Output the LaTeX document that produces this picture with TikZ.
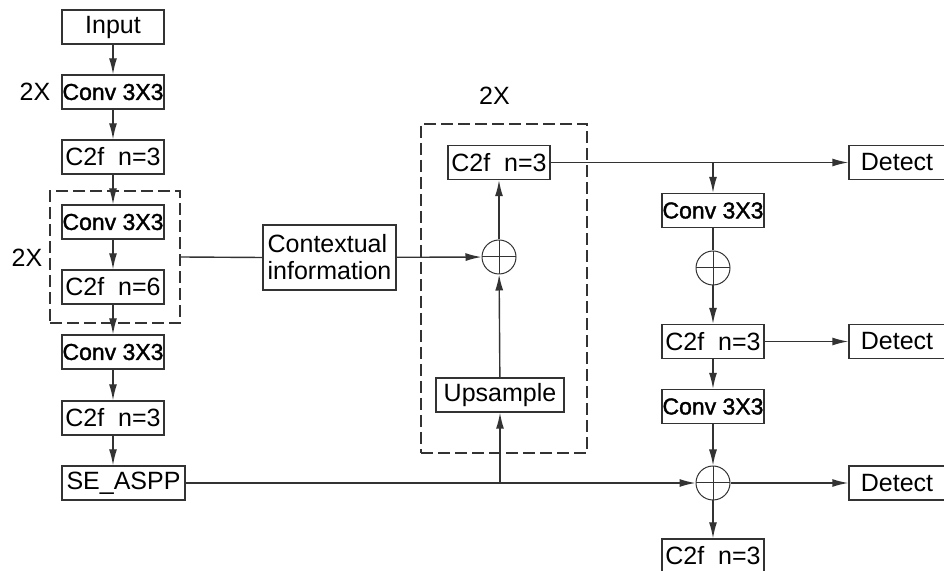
\documentclass[tikz,border=0pt]{standalone}
\usepackage{fontspec}
\setmainfont{Liberation Sans}
\newfontfamily\convfont[FakeBold=1.5]{Liberation Sans}
\usetikzlibrary{arrows.meta,positioning,fit}
\definecolor{cline}{HTML}{333333}
\tikzset{
  blk/.style={draw=cline, line width=0.7pt, minimum height=17pt, minimum width=51pt, inner sep=0pt, font=\fontsize{12.5}{13.5}\selectfont, fill=white},
  convn/.style={blk, font=\convfont\fontsize{11.5}{13}\selectfont},
  detn/.style={blk, minimum width=48pt},
  plus/.style={circle, draw=cline, line width=0.5pt, minimum size=17pt, inner sep=0pt,
    path picture={\draw[cline, line width=0.5pt] (path picture bounding box.north) -- (path picture bounding box.south)
      (path picture bounding box.west) -- (path picture bounding box.east);}},
  grp/.style={draw=cline, line width=0.7pt, dash pattern=on 6pt off 2.5pt, inner sep=0pt},
  lbl/.style={font=\fontsize{12.5}{13.5}\selectfont},
  pre/.style={-{Latex[length=8pt,width=4pt]}, draw=cline, line width=0.7pt},
  wire/.style={draw=cline, line width=0.7pt},
}
\begin{document}
\begin{tikzpicture}[x=0.5pt,y=-0.5pt]
\useasboundingbox (0,0) rectangle (944,571);
% ---------------- backbone
\node[blk] (inp) at (113,27) {Input};
\node[convn] (conv1) at (113,92) {Conv 3X3};
\node[lbl] (rep1) at (35,92) {2X};
\node[blk] (c2f1) at (113,157) {C2f\ \ n=3};
\node[convn] (conv2) at (113,222) {Conv 3X3};
\node[blk] (c2f6) at (113,287) {C2f\ \ n=6};
\node[grp, fit={(50,191) (180,323)}] (lgrp) {};
\node[lbl] (rep2) at (27,258) {2X};
\node[convn] (conv3) at (113,352) {Conv 3X3};
\node[blk] (c2f2) at (113,418) {C2f\ \ n=3};
\node[blk, minimum width=61.5pt] (aspp) at (123.5,483) {SE\_ASPP};
\draw[pre] (inp) -- (conv1);
\draw[pre] (conv1) -- (c2f1);
\draw[pre] (c2f1) -- (conv2);
\draw[pre] (conv2) -- (c2f6);
\draw[pre] (c2f6) -- (conv3);
\draw[pre] (conv3) -- (c2f2);
\draw[pre] (c2f2.south) -- (c2f2.south |- aspp.north);
% ---------------- context / upsample branch
\node[blk, minimum width=66.5pt, minimum height=32.5pt, align=left] (ctx) at (329.5,257.5) {Contextual\\information};
\node[plus] (plus1) at (499,257) {};
\node[blk] (c2fm) at (499,162.5) {C2f\ \ n=3};
\node[blk, minimum width=64pt] (ups) at (500,395) {Upsample};
\node[grp, fit={(421,124) (587,453)}] (mgrp) {};
\node[lbl] (rep3) at (494.5,96) {2X};
\draw[wire] (lgrp.east) -- (ctx.west);
\draw[pre] (ctx) -- (plus1);
\draw[pre] (ups) -- (plus1);
\draw[pre] (plus1) -- (c2fm);
% ---------------- head
\node[convn] (conv4) at (713,210.5) {Conv 3X3};
\node[plus] (plus2) at (713,268) {};
\node[blk] (c2fr1) at (713,341.5) {C2f\ \ n=3};
\node[convn] (conv5) at (713,406.5) {Conv 3X3};
\node[plus] (plus3) at (713,483) {};
\node[blk] (c2fr2) at (713,556) {C2f\ \ n=3};
\node[detn] (det1) at (897,162.5) {Detect};
\node[detn] (det2) at (897,341.5) {Detect};
\node[detn] (det3) at (897,483) {Detect};
\coordinate (jtop) at (c2fm.east -| conv4.north);
\coordinate (jbot) at (aspp.east -| ups.south);
\draw[pre] (c2fm.east) -- (det1.west);
\draw[pre] (jtop) -- (conv4.north);
\draw[wire] (conv4) -- (plus2);
\draw[pre] (plus2) -- (c2fr1);
\draw[pre] (c2fr1) -- (det2);
\draw[pre] (c2fr1) -- (conv5);
\draw[pre] (conv5) -- (plus3);
\draw[pre] (aspp.east) -- (plus3.west);
\draw[pre] (jbot) -- (ups.south);
\draw[pre] (plus3) -- (det3);
\draw[pre] (plus3) -- (c2fr2);
\end{tikzpicture}
\end{document}
